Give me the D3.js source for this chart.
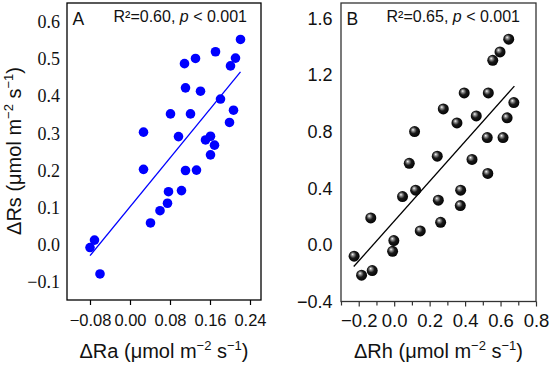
<!DOCTYPE html>
<html>
<head>
<meta charset="utf-8">
<script src="https://cdn.jsdelivr.net/npm/d3@7"></script>
<style>
body { margin: 0; background: #fff; }
</style>
</head>
<body>
<svg id="chart" width="550" height="367"></svg>
<script>
// panel A : dRa vs dRs
const raX = [0.221, 0.171, 0.131, 0.109, 0.211, 0.201, 0.111, 0.141, 0.181, 0.081,
             0.121, 0.207, 0.199, 0.027, 0.097, 0.161, 0.151, 0.169, 0.161, 0.027,
             0.111, 0.133, 0.077, 0.103, 0.060, 0.075, 0.041, -0.071, -0.080, -0.060];
const rsA = [0.552, 0.519, 0.501, 0.487, 0.502, 0.481, 0.422, 0.413, 0.392, 0.352,
             0.352, 0.362, 0.329, 0.303, 0.291, 0.292, 0.282, 0.268, 0.242, 0.203,
             0.200, 0.201, 0.143, 0.146, 0.092, 0.112, 0.059, 0.013, -0.007, -0.078];
const fitAX = [-0.080, 0.221];
const fitAY = [-0.029, 0.465];
const ticksAX = [-0.08, 0.00, 0.08, 0.16, 0.24];
const ticksAY = [-0.1, 0.0, 0.1, 0.2, 0.3, 0.4, 0.5, 0.6];

// panel B : dRh vs dRs
const rhX = [0.646, 0.597, 0.556, 0.395, 0.531, 0.675, 0.277, 0.463, 0.354, 0.637,
             0.115, 0.525, 0.614, 0.243, 0.439, 0.085, 0.528, 0.121, 0.047, 0.375,
             0.249, 0.373, 0.262, -0.132, 0.147, -0.002, -0.009, -0.226, -0.124, -0.184];
const rsB = [1.454, 1.364, 1.305, 1.074, 1.074, 1.006, 0.961, 0.912, 0.862, 0.898,
             0.801, 0.759, 0.759, 0.627, 0.604, 0.577, 0.505, 0.387, 0.342, 0.387,
             0.316, 0.278, 0.160, 0.191, 0.099, 0.031, -0.045, -0.080, -0.181, -0.214];
const fitBX = [-0.228, 0.678];
const fitBY = [-0.153, 1.122];
const ticksBX = [-0.2, 0.0, 0.2, 0.4, 0.6, 0.8];
const minorBX = [-0.3, -0.1, 0.1, 0.3, 0.5, 0.7];
const ticksBY = [-0.4, 0.0, 0.4, 0.8, 1.2, 1.6];

const svg = d3.select("#chart");
const sans = "'Liberation Sans', Arial, sans-serif";
const serif = "'Liberation Serif', 'Times New Roman', serif";
const fmt = (d, n) => d.toFixed(n).replace("-", "\u2212");

// shiny black ball
const grad = svg.append("defs").append("radialGradient")
    .attr("id", "ball").attr("cx", "0.45").attr("cy", "0.45").attr("r", "0.6")
    .attr("fx", "0.35").attr("fy", "0.32");
grad.append("stop").attr("offset", "0%").attr("stop-color", "#ffffff");
grad.append("stop").attr("offset", "18%").attr("stop-color", "#9a9a9a");
grad.append("stop").attr("offset", "50%").attr("stop-color", "#1a1a1a");
grad.append("stop").attr("offset", "100%").attr("stop-color", "#000000");

function unitLabel(g, x, y, name, rotate) {
  let t = g.append("text")
      .style("font-family", sans).style("font-size", "20px").attr("fill", "#111")
      .attr("text-anchor", "middle");
  if (rotate) t.attr("transform", "translate(" + x + "," + y + ") rotate(-90)");
  else t.attr("x", x).attr("y", y);
  t.append("tspan").text(name + " (\u03bcmol m");
  t.append("tspan").attr("dy", -8).style("font-size", "13px").text("\u22122");
  t.append("tspan").attr("dy", 8).text(" s");
  t.append("tspan").attr("dy", -8).style("font-size", "13px").text("\u22121");
  t.append("tspan").attr("dy", 8).text(")");
}

function panel(o) {
  let x = d3.scaleLinear().domain(o.xDom).range([o.left, o.right]);
  let y = d3.scaleLinear().domain(o.yDom).range([o.bottom, o.top]);
  let g = svg.append("g");

  // x axis
  let xa = g.append("g").attr("transform", "translate(0," + o.bottom + ")")
      .call(d3.axisBottom(x).tickValues(o.xTicks).tickSize(5).tickSizeOuter(0)
        .tickFormat(d => fmt(d, o.xDec)));
  xa.select(".domain").remove();
  xa.selectAll("line").attr("stroke", o.frame).attr("stroke-width", 1.2);
  xa.selectAll("text").attr("y", 25.5).attr("dy", 0)
      .style("font-family", sans).style("font-size", o.xFont + "px").attr("fill", "#111");
  if (o.xMinor) {
    let xm = g.append("g").attr("transform", "translate(0," + o.bottom + ")")
        .call(d3.axisBottom(x).tickValues(o.xMinor).tickSize(4).tickSizeOuter(0).tickFormat(""));
    xm.select(".domain").remove();
    xm.selectAll("line").attr("stroke", o.frame).attr("stroke-width", 1.2);
  }

  // y axis
  let ya = g.append("g").attr("transform", "translate(" + o.left + ",0)")
      .call(d3.axisLeft(y).tickValues(o.yTicks).tickSize(0).tickPadding(o.yPad)
        .tickFormat(d => fmt(d, o.yDec)));
  ya.select(".domain").remove();
  ya.selectAll("text").style("font-family", o.yFamily).style("font-size", "18px").attr("fill", "#111");

  // frame
  g.append("rect").attr("x", o.left).attr("y", o.top)
      .attr("width", o.right - o.left).attr("height", o.bottom - o.top)
      .attr("fill", "none").attr("stroke", o.frame).attr("stroke-width", 1.3);

  // fit line
  g.append("line")
      .attr("x1", x(o.fitX[0])).attr("y1", y(o.fitY[0]))
      .attr("x2", x(o.fitX[1])).attr("y2", y(o.fitY[1]))
      .attr("stroke", o.lineColor).attr("stroke-width", 1.3);

  // points
  g.selectAll("circle.pt").data(o.xs).enter().append("circle")
      .attr("class", "pt")
      .attr("cx", d => x(d)).attr("cy", (d, i) => y(o.ys[i]))
      .attr("r", o.r).attr("fill", o.pointFill);

  // panel letter and stats
  g.append("text").attr("x", o.left + 5.5).attr("y", 24.5)
      .style("font-family", sans).style("font-size", "17.5px").attr("fill", "#111").text(o.letter);
  let st = g.append("text").attr("x", o.statX).attr("y", 21.7).attr("text-anchor", "end")
      .style("font-family", sans).style("font-size", "16px").attr("fill", "#111");
  st.append("tspan").text("R\u00b2=" + o.r2 + ", ");
  st.append("tspan").style("font-style", "italic").text("p");
  st.append("tspan").text(" < 0.001");

  unitLabel(g, (o.left + o.right) / 2, 358, o.xName, false);
}

panel({
  xs: raX, ys: rsA, fitX: fitAX, fitY: fitAY,
  xDom: [-0.126, 0.262], yDom: [-0.148, 0.65],
  left: 67, right: 261, top: 3, bottom: 300,
  xTicks: ticksAX, xDec: 2, xFont: 16.5, yTicks: ticksAY, yDec: 1,
  yFamily: serif, yPad: 7, frame: "#000",
  lineColor: "#0000ff", pointFill: "#0000ff", r: 4.8,
  letter: "A", statX: 247, r2: "0.60", xName: "\u0394Ra"
});

panel({
  xs: rhX, ys: rsB, fitX: fitBX, fitY: fitBY,
  xDom: [-0.3, 0.8], yDom: [-0.4, 1.71],
  left: 341, right: 536, top: 3, bottom: 301.5,
  xTicks: ticksBX, xMinor: minorBX, xDec: 1, xFont: 18.5, yTicks: ticksBY, yDec: 1,
  yFamily: sans, yPad: 8.5, frame: "#333",
  lineColor: "#000", pointFill: "url(#ball)", r: 5.5,
  letter: "B", statX: 520, r2: "0.65", xName: "\u0394Rh"
});

unitLabel(svg, 21, 151, "\u0394Rs", true);
</script>
</body>
</html>
